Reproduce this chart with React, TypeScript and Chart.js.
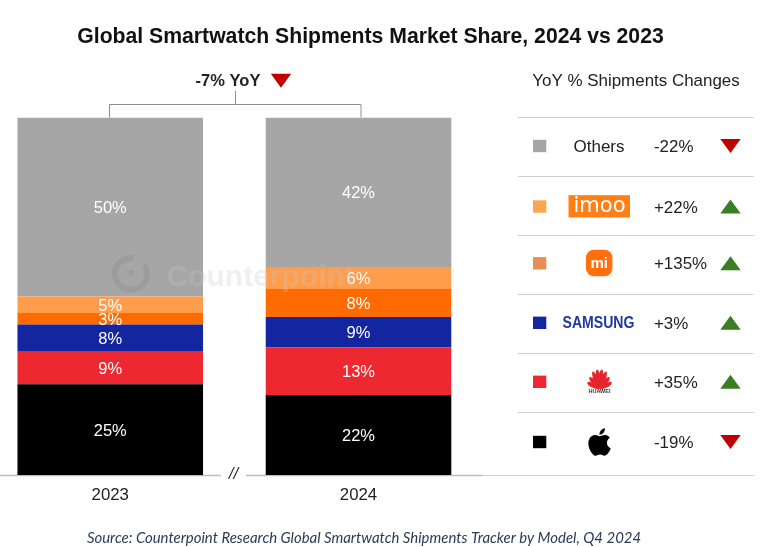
import React, { useEffect, useRef } from "react";
import { Chart, registerables } from "chart.js";

Chart.register(...registerables);

const years = ["2023", "2024"];
const appleValues = [25.4, 22.4];
const huaweiValues = [9.1, 13.3];
const samsungValues = [7.6, 8.5];
const xiaomiValues = [3.2, 7.8];
const imooValues = [4.6, 6.2];
const othersValues = [50.1, 41.8];

const seriesNames = ["Apple", "Huawei", "Samsung", "Xiaomi", "imoo", "Others"];
const seriesColors = ["#000000", "#ee2830", "#13259f", "#ff6b00", "#ff9d4d", "#a6a6a6"];

const legendKeys = ["Others", "imoo", "Xiaomi", "Samsung", "Huawei", "Apple"];
const legendSwatches = ["#a6a6a6", "#ffa552", "#ea8d55", "#13259f", "#ee2830", "#000000"];
const legendChanges = ["-22%", "+22%", "+135%", "+3%", "+35%", "-19%"];

const TITLE = "Global Smartwatch Shipments Market Share, 2024 vs 2023";
const TOTAL_CHANGE = "-7% YoY";
const LEGEND_TITLE = "YoY % Shipments Changes";
const SOURCE = "Source: Counterpoint Research Global Smartwatch Shipments Tracker by Model, Q4 2024";
const WATERMARK = "Counterpoint";

const APPLE_PATH =
  "M12.152 6.896c-.948 0-2.415-1.078-3.96-1.04-2.04.027-3.91 1.183-4.961 3.014-2.117 3.675-.546 9.103 1.519 12.09 1.013 1.454 2.208 3.09 3.792 3.039 1.52-.065 2.09-.987 3.935-.987 1.831 0 2.35.987 3.96.948 1.637-.026 2.676-1.48 3.676-2.948 1.156-1.688 1.636-3.325 1.662-3.415-.039-.013-3.182-1.221-3.22-4.857-.026-3.04 2.48-4.494 2.597-4.559-1.429-2.09-3.623-2.324-4.39-2.376-2-.156-3.675 1.09-4.61 1.09zM15.53 3.83c.843-1.012 1.4-2.427 1.245-3.83-1.207.052-2.662.805-3.532 1.818-.78.896-1.454 2.338-1.273 3.714 1.338.104 2.715-.688 3.559-1.701";

const SANS = '"Liberation Sans", Arial, sans-serif';

function triangle(ctx: CanvasRenderingContext2D, cx: number, cy: number, up: boolean) {
  const w = 10.2;
  const h = 7;
  ctx.beginPath();
  if (up) {
    ctx.moveTo(cx - w, cy + h);
    ctx.lineTo(cx + w, cy + h);
    ctx.lineTo(cx, cy - h);
    ctx.fillStyle = "#3b7d23";
  } else {
    ctx.moveTo(cx - w, cy - h);
    ctx.lineTo(cx + w, cy - h);
    ctx.lineTo(cx, cy + h);
    ctx.fillStyle = "#c00000";
  }
  ctx.closePath();
  ctx.fill();
}

function line(ctx: CanvasRenderingContext2D, pts: number[][], color: string, width: number) {
  ctx.strokeStyle = color;
  ctx.lineWidth = width;
  ctx.beginPath();
  pts.forEach(([x, y], i) => (i ? ctx.lineTo(x, y) : ctx.moveTo(x, y)));
  ctx.stroke();
}

function text(
  ctx: CanvasRenderingContext2D,
  s: string,
  x: number,
  y: number,
  font: string,
  color: string,
  align: CanvasTextAlign = "center"
) {
  ctx.font = font;
  ctx.fillStyle = color;
  ctx.textAlign = align;
  ctx.textBaseline = "middle";
  ctx.fillText(s, x, y);
}

function drawLogo(ctx: CanvasRenderingContext2D, key: string, cx: number, cy: number) {
  ctx.save();
  if (key === "Others") {
    text(ctx, "Others", cx, cy + 1.5, `17px ${SANS}`, "#222222");
  } else if (key === "imoo") {
    ctx.fillStyle = "#ff7f17";
    ctx.fillRect(cx - 30.5, cy - 11.3, 61.5, 22.3);
    text(ctx, "imoo", cx + 0.5, cy, `21px "DejaVu Sans", ${SANS}`, "#ffffff");
  } else if (key === "Xiaomi") {
    ctx.fillStyle = "#ff6f0f";
    ctx.beginPath();
    ctx.roundRect(cx - 13, cy - 13.6, 26.4, 26.6, 8);
    ctx.fill();
    text(ctx, "mi", cx + 0.2, cy + 1, `bold 15px ${SANS}`, "#ffffff");
  } else if (key === "Samsung") {
    ctx.translate(cx - 0.5, cy + 0.5);
    ctx.scale(0.88, 1);
    text(ctx, "SAMSUNG", 0, 0, `bold 16px ${SANS}`, "#1f3a9e");
  } else if (key === "Huawei") {
    ctx.fillStyle = "#e5262c";
    const petals = [
      [-65, 13.5],
      [-42, 15],
      [-22, 18],
      [-7, 19],
      [7, 19],
      [22, 18],
      [42, 15],
      [65, 13.5],
    ];
    petals.forEach(([deg, len]) => {
      ctx.save();
      ctx.translate(cx + 0.5, cy + 6.5);
      ctx.rotate((deg * Math.PI) / 180);
      ctx.beginPath();
      ctx.ellipse(0, -len / 2, 2.4, len / 2, 0, 0, Math.PI * 2);
      ctx.fill();
      ctx.restore();
    });
    text(ctx, "HUAWEI", cx + 0.5, cy + 10, `bold 5.5px ${SANS}`, "#333333");
  } else if (key === "Apple") {
    const s = 1.14;
    ctx.translate(cx + 0.5 - 12 * s, cy - 12 * s);
    ctx.scale(s, s);
    ctx.fillStyle = "#000000";
    ctx.fill(new Path2D(APPLE_PATH));
  }
  ctx.restore();
}

const furniture = {
  id: "furniture",
  beforeDatasetsDraw(chart: Chart) {
    const ctx = chart.ctx;
    const y0 = chart.scales.y.getPixelForValue(0);
    const topY = chart.chartArea.top;
    ctx.save();
    line(ctx, [[0, y0 + 0.5], [221, y0 + 0.5]], "#bdbdbd", 1.5);
    line(ctx, [[246, y0 + 0.5], [483, y0 + 0.5]], "#bdbdbd", 1.5);
    text(ctx, "//", 233.5, y0 - 1, `italic 17px ${SANS}`, "#333333");
    const bracketY = 104.5;
    line(ctx, [[109.5, topY], [109.5, bracketY], [361, bracketY], [361, topY]], "#8f8f8f", 1);
    line(ctx, [[235.5, bracketY], [235.5, 91]], "#8f8f8f", 1);
    ctx.restore();
  },
  afterDraw(chart: Chart) {
    const ctx = chart.ctx;
    ctx.save();
    text(ctx, TITLE, 370.5, 37, `bold 21.2px ${SANS}`, "#111111");
    text(ctx, TOTAL_CHANGE, 228, 81, `bold 16.5px ${SANS}`, "#222222");
    triangle(ctx, 281, 80.7, false);
    text(ctx, LEGEND_TITLE, 636, 81, `16.95px ${SANS}`, "#222222");
    text(ctx, SOURCE, 364, 538.5, `italic 14.93px Lato, ${SANS}`, "#2c3a57");

    // faint watermark
    ctx.globalAlpha = 0.28;
    text(ctx, WATERMARK, 166.5, 277.5, `bold 30px ${SANS}`, "#c4c4c4", "left");
    ctx.globalAlpha = 0.2;
    ctx.lineWidth = 6;
    ctx.strokeStyle = "#777777";
    ctx.beginPath();
    ctx.arc(131, 274, 16, -0.6, Math.PI * 1.55);
    ctx.stroke();
    ctx.fillStyle = "#777777";
    ctx.beginPath();
    ctx.arc(131, 273, 3, 0, Math.PI * 2);
    ctx.fill();
    ctx.globalAlpha = 1;

    // legend panel
    const rowLines = [117.5, 176.5, 235.5, 294.5, 353.5, 412.5, 475.5];
    const rowCenters = [146, 206.5, 263.3, 322.8, 381.8, 442];
    rowLines.forEach((ly, i) => {
      line(ctx, [[i === 6 ? 483 : 518, ly], [753.5, ly]], "#cfcfcf", 1.2);
    });
    legendKeys.forEach((key, i) => {
      const cy = rowCenters[i];
      ctx.fillStyle = legendSwatches[i];
      ctx.fillRect(533, cy - 6.2, 13.3, 12.4);
      drawLogo(ctx, key, 599, cy);
      const change = legendChanges[i];
      text(ctx, change, 654, cy + 1.5, `16.9px ${SANS}`, "#222222", "left");
      triangle(ctx, 730.5, cy, change.startsWith("+"));
    });
    ctx.restore();
  },
};

const valueLabels = {
  id: "valueLabels",
  afterDatasetsDraw(chart: Chart) {
    const ctx = chart.ctx;
    chart.data.datasets.forEach((ds, di) => {
      chart.getDatasetMeta(di).data.forEach((bar: any, i: number) => {
        const v = (ds.data[i] as any).y as number;
        const p = bar.getProps(["x", "y", "base"], true);
        text(ctx, `${Math.round(v)}%`, p.x, (p.y + p.base) / 2 + 1.5, `16.5px ${SANS}`, "#ffffff");
      });
    });
  },
};

export default function App() {
  const ref = useRef<HTMLCanvasElement>(null);
  useEffect(() => {
    const values = [appleValues, huaweiValues, samsungValues, xiaomiValues, imooValues, othersValues];
    const chart = new Chart(ref.current!, {
      type: "bar",
      data: {
        datasets: seriesNames.map((label, i) => ({
          label,
          data: values[i].map((y, j) => ({ x: j, y })),
          backgroundColor: seriesColors[i],
          borderWidth: 0,
          categoryPercentage: 1,
          barPercentage: 0.7475,
        })),
      },
      plugins: [furniture, valueLabels],
      options: {
        animation: false,
        responsive: false,
        devicePixelRatio: 1,
        layout: { padding: { left: 0, right: 277, top: 117.5, bottom: 0 } },
        plugins: { legend: { display: false }, title: { display: false }, tooltip: { enabled: false } },
        scales: {
          x: {
            type: "linear",
            offset: false,
            stacked: true,
            min: -0.4441,
            max: 1.5538,
            grid: { display: false, drawTicks: false },
            border: { display: false },
            ticks: {
              stepSize: 1,
              includeBounds: false,
              autoSkip: false,
              color: "#222222",
              font: { family: "Liberation Sans", size: 16.8 },
              padding: 10,
              maxRotation: 0,
              callback: (v: any) => years[v] ?? "",
            },
            afterFit(s: any) {
              s.height = 72;
            },
          },
          y: { stacked: true, display: false, min: 0, max: 100 },
        },
      },
    });
    return () => chart.destroy();
  }, []);
  return (
    <div style={{ position: "absolute", left: 0, top: 0, width: 773, height: 547, background: "#fff" }}>
      <canvas ref={ref} width={773} height={547} style={{ display: "block" }} />
    </div>
  );
}
